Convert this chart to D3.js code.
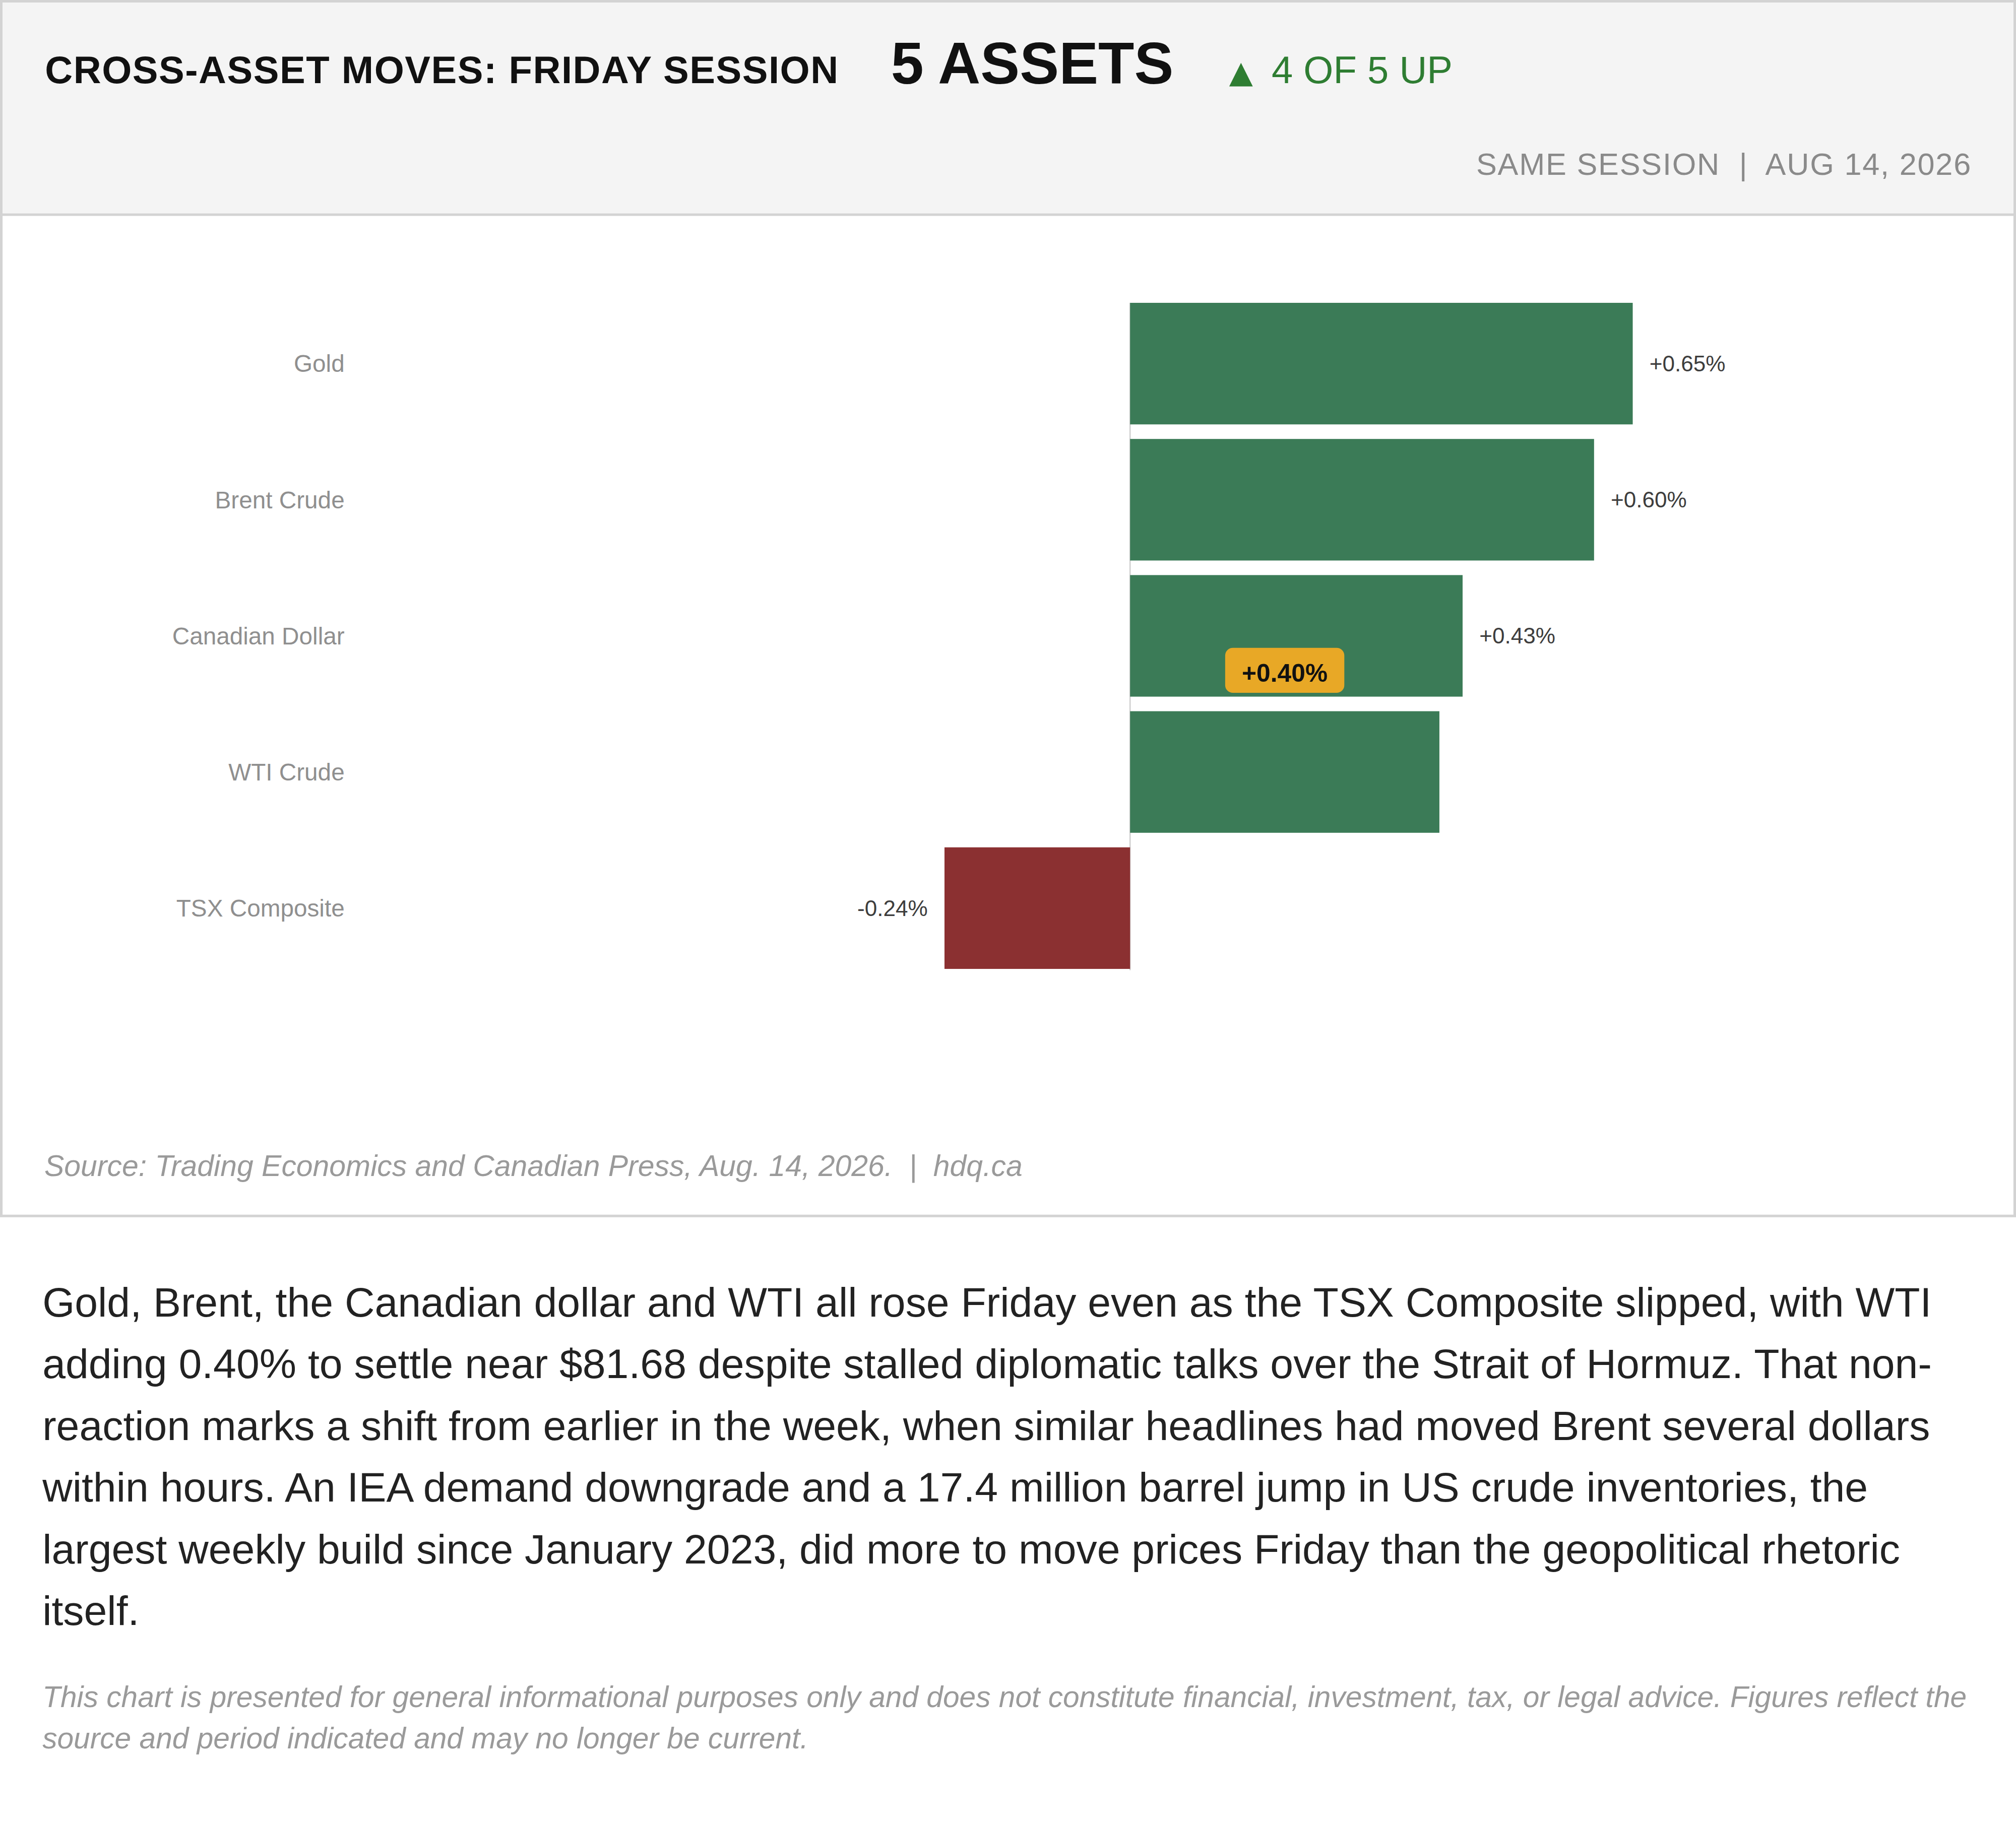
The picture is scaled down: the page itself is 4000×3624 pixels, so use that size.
<!DOCTYPE html>
<html>
<head>
<meta charset="utf-8">
<script src="https://cdn.jsdelivr.net/npm/d3@7"></script>
<style>
  html, body { margin: 0; padding: 0; background: #fff; overflow: hidden; }
  #page {
    zoom: 2.5510204;
    position: relative;
    width: 1568px;
    height: 1421px;
    font-family: "Liberation Sans", Arial, Helvetica, sans-serif;
  }
  #chart svg { display: block; }
  .story {
    position: absolute;
    left: 33px;
    top: 989px;
    width: 1503px;
    margin: 0;
    font-size: 32.3px;
    line-height: 48px;
    color: #222;
  }
  .disclaimer {
    position: absolute;
    left: 33px;
    top: 1304px;
    width: 1503px;
    margin: 0;
    font-size: 23px;
    line-height: 32.4px;
    font-style: italic;
    color: #9a9a9a;
  }
</style>
</head>
<body>
<div id="page">
  <div id="chart"></div>
  <p class="story">Gold, Brent, the Canadian dollar and WTI all rose Friday even as the TSX Composite slipped, with WTI adding 0.40% to settle near $81.68 despite stalled diplomatic talks over the Strait of Hormuz. That non-reaction marks a shift from earlier in the week, when similar headlines had moved Brent several dollars within hours. An IEA demand downgrade and a 17.4 million barrel jump in US crude inventories, the largest weekly build since January 2023, did more to move prices Friday than the geopolitical rhetoric itself.</p>
  <p class="disclaimer">This chart is presented for general informational purposes only and does not constitute financial, investment, tax, or legal advice. Figures reflect the source and period indicated and may no longer be current.</p>
</div>
<script>
const ASSETS = ["Gold", "Brent Crude", "Canadian Dollar", "WTI Crude", "TSX Composite"];
const CHANGES = [0.65, 0.6, 0.43, 0.4, -0.24];
const HIGHLIGHT = "WTI Crude";
const TITLE = "CROSS-ASSET MOVES: FRIDAY SESSION";
const SUBTITLE = "SAME SESSION  |  AUG 14, 2026";
const SOURCE = "Source: Trading Economics and Canadian Press, Aug. 14, 2026.  |  hdq.ca";

const UP = "#3b7b57";
const DOWN = "#8b3031";
const BADGE = "#e8a826";

const width = 1568;
const height = 947;
const rows = ASSETS.map((name, i) => ({ name, change: CHANGES[i] }));
const upCount = CHANGES.filter((v) => v > 0).length;

const pct = d3
  .formatLocale({ decimal: ".", thousands: ",", grouping: [3], currency: ["$", ""], minus: "-" })
  .format("+.2f");
const label = (v) => `${pct(v)}%`;

const x = d3.scaleLinear().domain(d3.extent(CHANGES)).range([734.6, 1269.9]);
const y = d3.scaleBand().domain(ASSETS).range([235.6, 753.8]).paddingInner(0.107);

const svg = d3
  .select("#chart")
  .append("svg")
  .attr("width", width)
  .attr("height", height)
  .attr("viewBox", [0, 0, width, height]);

// frame + header band
svg
  .append("rect")
  .attr("x", 1)
  .attr("y", 1)
  .attr("width", width - 2)
  .attr("height", height - 2)
  .attr("fill", "#fff")
  .attr("stroke", "#d3d3d3")
  .attr("stroke-width", 2);

svg
  .append("rect")
  .attr("x", 2)
  .attr("y", 2)
  .attr("width", width - 4)
  .attr("height", 164)
  .attr("fill", "#f4f4f4");

svg
  .append("line")
  .attr("x1", 0)
  .attr("x2", width)
  .attr("y1", 167)
  .attr("y2", 167)
  .attr("stroke", "#d3d3d3")
  .attr("stroke-width", 2);

const header = svg.append("g");

header
  .append("text")
  .attr("x", 35)
  .attr("y", 64.6)
  .attr("font-size", 29.8)
  .attr("font-weight", 700)
  .attr("letter-spacing", 0.6)
  .attr("fill", "#111")
  .text(TITLE);

header
  .append("text")
  .attr("x", 693)
  .attr("y", 65)
  .attr("font-size", 45.8)
  .attr("font-weight", 700)
  .attr("fill", "#111")
  .text(`${ASSETS.length} ASSETS`);

const upText = header
  .append("text")
  .attr("y", 64.6)
  .attr("font-size", 29.8)
  .attr("fill", "#2e7d32");

upText
  .append("tspan")
  .attr("x", 956)
  .attr("dy", -0.5)
  .attr("font-family", "DejaVu Sans")
  .attr("font-size", 24)
  .text("▲");

upText
  .append("tspan")
  .attr("x", 989)
  .attr("dy", 0.5)
  .text(`${upCount} OF ${ASSETS.length} UP`);

header
  .append("text")
  .attr("x", 1533.5)
  .attr("y", 136)
  .attr("text-anchor", "end")
  .attr("font-size", 24)
  .attr("letter-spacing", 0.7)
  .attr("fill", "#8a8a8a")
  .attr("xml:space", "preserve")
  .style("white-space", "pre")
  .text(SUBTITLE);

// zero line
svg
  .append("line")
  .attr("x1", x(0))
  .attr("x2", x(0))
  .attr("y1", y.range()[0])
  .attr("y2", y.range()[1] + 1)
  .attr("stroke", "#cfcfcf")
  .attr("stroke-width", 1);

svg
  .append("g")
  .selectAll("rect")
  .data(rows)
  .join("rect")
  .attr("x", (d) => x(Math.min(0, d.change)))
  .attr("y", (d) => y(d.name))
  .attr("width", (d) => Math.abs(x(d.change) - x(0)))
  .attr("height", y.bandwidth())
  .attr("fill", (d) => (d.change >= 0 ? UP : DOWN));

svg
  .append("g")
  .attr("text-anchor", "end")
  .attr("font-size", 18.7)
  .attr("fill", "#8f8f8f")
  .selectAll("text")
  .data(rows)
  .join("text")
  .attr("x", 268)
  .attr("y", (d) => y(d.name) + y.bandwidth() / 2)
  .attr("dy", "0.35em")
  .text((d) => d.name);

svg
  .append("g")
  .attr("font-size", 17.3)
  .attr("fill", "#3d3d3d")
  .selectAll("text")
  .data(rows.filter((d) => d.name !== HIGHLIGHT))
  .join("text")
  .attr("x", (d) => (d.change >= 0 ? x(d.change) + 13 : x(d.change) - 13))
  .attr("y", (d) => y(d.name) + y.bandwidth() / 2)
  .attr("dy", "0.35em")
  .attr("text-anchor", (d) => (d.change >= 0 ? "start" : "end"))
  .text((d) => label(d.change));

// highlighted row gets a badge sitting above its bar
const hi = rows.find((d) => d.name === HIGHLIGHT);
const badge = svg
  .append("g")
  .attr("transform", `translate(${(x(0) + x(hi.change)) / 2},${y(hi.name) - 31.8})`);

const badgeRect = badge.append("rect").attr("fill", BADGE).attr("rx", 6);

const badgeText = badge
  .append("text")
  .attr("text-anchor", "middle")
  .attr("dy", "0.46em")
  .attr("font-size", 19.5)
  .attr("font-weight", 700)
  .attr("fill", "#111")
  .text(label(hi.change));

const bw = badgeText.node().getComputedTextLength() + 26;
badgeRect
  .attr("x", -bw / 2)
  .attr("y", -17.5)
  .attr("width", bw)
  .attr("height", 35);

svg
  .append("text")
  .attr("x", 34.5)
  .attr("y", 915)
  .attr("font-size", 23.1)
  .attr("font-style", "italic")
  .attr("fill", "#9a9a9a")
  .attr("xml:space", "preserve")
  .style("white-space", "pre")
  .text(SOURCE);
</script>
</body>
</html>
